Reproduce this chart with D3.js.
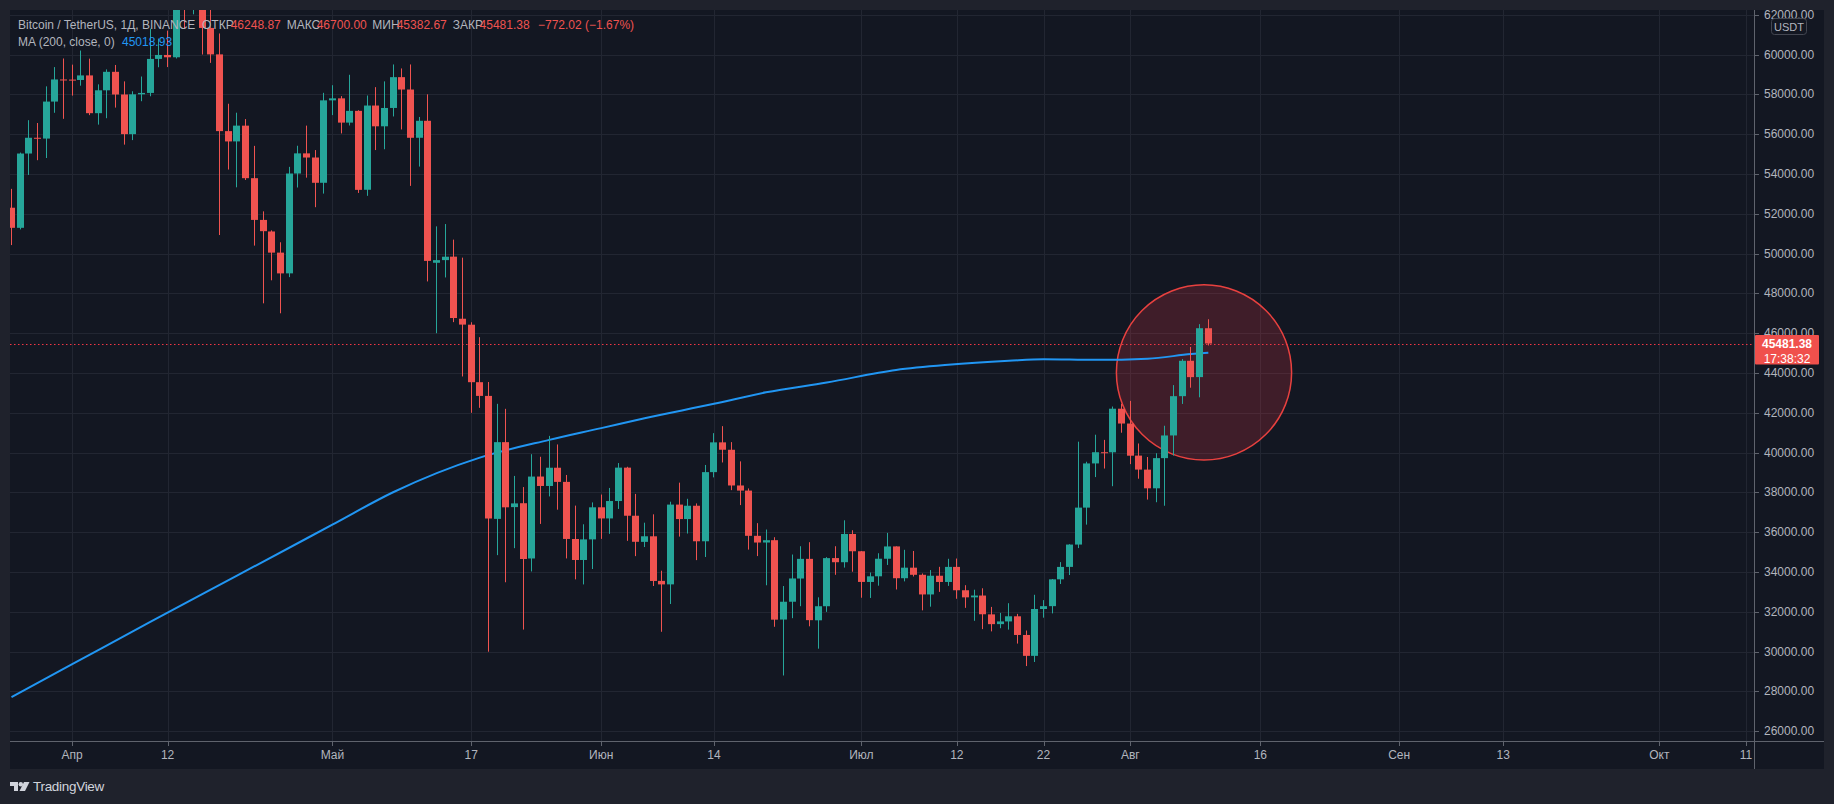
<!DOCTYPE html>
<html><head><meta charset="utf-8">
<script src="https://cdn.jsdelivr.net/npm/d3@7"></script>
<style>
html,body{margin:0;padding:0;background:#1f222c;}
svg{display:block;font-family:"Liberation Sans",Arial,sans-serif;}
</style>
</head><body>
<svg id="chart" width="1834" height="804"></svg>
<script>
// ---------- DATA ----------
const dates = [
"2021-03-25","2021-03-26","2021-03-27","2021-03-28","2021-03-29","2021-03-30","2021-03-31",
"2021-04-01","2021-04-02","2021-04-03","2021-04-04","2021-04-05","2021-04-06","2021-04-07","2021-04-08","2021-04-09","2021-04-10",
"2021-04-11","2021-04-12","2021-04-13","2021-04-14","2021-04-15","2021-04-16","2021-04-17","2021-04-18","2021-04-19","2021-04-20",
"2021-04-21","2021-04-22","2021-04-23","2021-04-24","2021-04-25","2021-04-26","2021-04-27","2021-04-28","2021-04-29","2021-04-30",
"2021-05-01","2021-05-02","2021-05-03","2021-05-04","2021-05-05","2021-05-06","2021-05-07","2021-05-08","2021-05-09","2021-05-10",
"2021-05-11","2021-05-12","2021-05-13","2021-05-14","2021-05-15","2021-05-16","2021-05-17","2021-05-18","2021-05-19","2021-05-20",
"2021-05-21","2021-05-22","2021-05-23","2021-05-24","2021-05-25","2021-05-26","2021-05-27","2021-05-28","2021-05-29","2021-05-30","2021-05-31",
"2021-06-01","2021-06-02","2021-06-03","2021-06-04","2021-06-05","2021-06-06","2021-06-07","2021-06-08","2021-06-09","2021-06-10",
"2021-06-11","2021-06-12","2021-06-13","2021-06-14","2021-06-15","2021-06-16","2021-06-17","2021-06-18","2021-06-19","2021-06-20",
"2021-06-21","2021-06-22","2021-06-23","2021-06-24","2021-06-25","2021-06-26","2021-06-27","2021-06-28","2021-06-29","2021-06-30",
"2021-07-01","2021-07-02","2021-07-03","2021-07-04","2021-07-05","2021-07-06","2021-07-07","2021-07-08","2021-07-09","2021-07-10",
"2021-07-11","2021-07-12","2021-07-13","2021-07-14","2021-07-15","2021-07-16","2021-07-17","2021-07-18","2021-07-19","2021-07-20",
"2021-07-21","2021-07-22","2021-07-23","2021-07-24","2021-07-25","2021-07-26","2021-07-27","2021-07-28","2021-07-29","2021-07-30","2021-07-31",
"2021-08-01","2021-08-02","2021-08-03","2021-08-04","2021-08-05","2021-08-06","2021-08-07","2021-08-08","2021-08-09","2021-08-10"
];
const open = [
52303,51293,55025,55817,55777,57635,58746,
58739,58720,58950,57052,58202,59130,57991,56000,58000,58069,
59778,59977,59860,63576,62960,63158,61334,60006,56151,55634,
56426,53787,51690,51110,50047,49005,54021,55033,54825,53555,
57697,57797,56578,57169,53205,57436,56393,57315,58862,58241,
55816,56670,49537,49671,49845,46726,46426,43538,42849,36671,
40526,37263,37458,34682,38798,38324,39241,38530,35661,34606,35641,
37253,36694,37568,39246,36829,35516,35796,33557,33381,37389,
36663,37331,35546,39020,40516,40143,38349,38093,35820,35484,
35601,31614,32509,33675,34663,31576,32283,34702,34494,35912,
35045,33502,33787,34669,35288,33690,34220,33863,32875,33815,
33502,34259,33086,32729,32820,31874,31384,31520,31778,30839,
29790,32144,32287,33635,34259,35381,37237,39457,40019,40016,42206,
41461,39850,39146,38207,39723,40862,42836,44614,43794,46248.87
];
const high = [
53250,55073,56700,56559,58400,59368,59800,
59490,60200,59791,58500,59251,59474,58650,58153,58894,61300,
60800,61200,63777,64854,63800,63520,62506,61057,57526,57076,
56757,55410,52120,51167,50567,54356,55416,56428,55200,58075,
58458,57911,58981,57200,57939,58360,58650,59500,59300,59500,
56862,58000,51367,51483,50700,49795,46550,45799,43547,42451,
42200,38829,38270,39920,39791,40841,40411,38877,37338,36400,37499,
37894,38225,39476,39289,37925,36480,36900,34068,37534,38491,
37680,37448,39380,40978,41330,40528,39560,38202,36457,36137,
35750,33298,34881,35298,35500,32730,34749,35297,36600,36100,
35057,33977,34945,35967,35293,35118,35059,33929,34100,34262,
34666,34679,33340,33114,33185,32249,31948,32435,31899,31063,
32858,32591,33650,34500,35398,40550,39542,40900,40640,42316,42448,
42599,40459,39780,39969,41350,43392,44700,45310,46454,46700
];
const low = [
50427,51214,53950,54691,54800,57072,56769,
57935,58434,56955,56478,56800,57333,55473,55700,57654,57902,
59360,59369,59800,61301,62020,60000,59580,50931,54221,53329,
53695,50400,47500,48657,47000,48817,53319,53813,52330,53013,
56956,56035,56435,53046,52900,55200,55241,56888,56235,53400,
54370,48600,46000,48800,46555,43825,42001,42250,30000,34850,
33488,35200,31111,34031,36419,37800,37134,34684,33633,33379,34153,
35667,35920,37170,35568,34800,35257,33300,31000,32396,35782,
35936,34600,34757,38757,39506,38116,37365,35129,34803,33336,
31251,28805,31683,32286,31275,30151,32000,33862,34225,34017,
32711,32699,33316,34357,33125,33532,33777,32077,32261,33004,
33306,32658,32202,31550,31133,31020,31179,31108,30407,29278,
29482,31708,31924,33401,33851,35205,36383,38772,39200,38313,41000,
39422,38690,37642,37508,37332,39853,42446,43261,42779,45382.67
];
const close = [
51293,55025,55817,55777,57635,58746,58740,
58720,58950,57052,58202,59130,57991,56000,58000,58069,59778,
59977,59860,63577,62959,63159,61334,60006,56151,55633,56427,
53787,51690,51125,50047,49004,54021,55033,54824,53555,57697,
57797,56578,57169,53200,57436,56393,57314,58862,58240,55816,
56670,49631,49670,49841,46762,46431,43538,42849,36690,40526,
37252,37449,34655,38797,38324,39241,38529,35663,34606,35641,37253,
36693,37568,39246,36829,35520,35797,33552,33380,37389,36662,
37331,35546,39020,40516,40144,38349,38092,35820,35483,35600,
31608,32509,33678,34663,31584,32283,34700,34494,35911,35045,
33504,33786,34669,35287,33690,34220,33862,32875,33815,33502,
34259,33086,32729,32820,31880,31383,31520,31778,30839,29790,
32144,32287,33634,34258,35381,37237,39457,40019,40016,42206,41461,
39845,39147,38207,39723,40862,42836,44614,43792,46249,45481.38
];
// MA(200, close)
const maDates = ["2021-03-25","2021-04-01","2021-04-10","2021-04-20","2021-05-01","2021-05-08","2021-05-18","2021-05-26",
  "2021-06-01","2021-06-06","2021-06-14","2021-06-20","2021-06-27","2021-07-05","2021-07-11","2021-07-18",
  "2021-07-22","2021-07-28","2021-08-03","2021-08-08","2021-08-10"];
const maValues = [27720,29370,31500,33820,36380,38010,39750,40640,
  41230,41730,42450,43030,43520,44150,44410,44610,
  44690,44660,44720,44950,45018.93];

const yTicks = [26000,28000,30000,32000,34000,36000,38000,40000,42000,44000,46000,48000,50000,52000,54000,56000,58000,60000,62000];
const xTickDates = ["2021-04-01","2021-04-12","2021-05-01","2021-05-17","2021-06-01","2021-06-14","2021-07-01","2021-07-12",
  "2021-07-22","2021-08-01","2021-08-16","2021-09-01","2021-09-13","2021-10-01","2021-10-11"];
const xTickLabels = ["Апр","12","Май","17","Июн","14","Июл","12","22","Авг","16","Сен","13","Окт","11"];

const legendTitle = "Bitcoin / TetherUS, 1Д, BINANCE";
const legendLabels = ["ОТКР","МАКС","МИН","ЗАКР"];
const legendValues = ["46248.87","46700.00","45382.67","45481.38"];
const legendChange = "−772.02 (−1.67%)";
const maLegend = "MA (200, close, 0)";
const maLast = "45018.93";
const lastPrice = 45481.38;
const countdown = "17:38:32";
const currency = "USDT";
// circle annotation (center date / price, radius in days)
const circleCenter = {date: "2021-08-09T12:00:00Z", price: 44030, radiusDays: 10.1};

// ---------- LAYOUT ----------
const W = 1834, H = 804;
const P = {left: 10, top: 10, right: 1754, bottom: 741};
const panelRight = 1824, panelBottom = 769;
const C = {bg:"#131722", outer:"#1f222c", grid:"#222632", axis:"#5f636d", text:"#b2b5be",
  up:"#26a69a", down:"#ef5350", ma:"#2196f3", red:"#f23645"};

const parse = s => new Date(s.length > 10 ? s : s + "T00:00:00Z");
const dayMs = 864e5;
const xs = d3.scaleUtc()
  .domain([new Date(parse("2021-04-01").getTime() - 7.172*dayMs), new Date(parse("2021-04-01").getTime() + 193.917*dayMs)])
  .range([P.left, P.right]);
const ys = d3.scaleLinear().domain([26000, 60000]).range([731.3, 54.5]);

const svg = d3.select("#chart");
svg.append("rect").attr("width", W).attr("height", H).attr("fill", C.outer);
svg.append("rect").attr("x", P.left).attr("y", P.top).attr("width", panelRight - P.left).attr("height", panelBottom - P.top).attr("fill", C.bg);

const defs = svg.append("defs");
defs.append("clipPath").attr("id","plotClip").append("rect")
  .attr("x", P.left).attr("y", P.top).attr("width", P.right - P.left).attr("height", P.bottom - P.top);
defs.append("clipPath").attr("id","yaxClip").append("rect")
  .attr("x", P.right).attr("y", P.top).attr("width", panelRight - P.right).attr("height", P.bottom - P.top);

const plot = svg.append("g").attr("clip-path","url(#plotClip)");

// grid
plot.append("g").selectAll("line").data(yTicks).join("line")
  .attr("x1", P.left).attr("x2", P.right)
  .attr("y1", d => Math.round(ys(d)) + 0.5).attr("y2", d => Math.round(ys(d)) + 0.5)
  .attr("stroke", C.grid).attr("stroke-width", 1);
plot.append("g").selectAll("line").data(xTickDates).join("line")
  .attr("x1", d => Math.round(xs(parse(d))) + 0.5).attr("x2", d => Math.round(xs(parse(d))) + 0.5)
  .attr("y1", P.top).attr("y2", P.bottom)
  .attr("stroke", C.grid).attr("stroke-width", 1);

// circle annotation
const cc = parse(circleCenter.date);
const ccx = xs(cc), ccy = ys(circleCenter.price);
const cr = xs(new Date(cc.getTime() + circleCenter.radiusDays*dayMs)) - ccx;
plot.append("circle").attr("cx", ccx).attr("cy", ccy).attr("r", cr)
  .attr("fill", "rgba(242,54,69,0.2)").attr("stroke", "#e8413f").attr("stroke-width", 1.5);

// last price dotted line
plot.append("line").attr("x1", P.left).attr("x2", P.right)
  .attr("y1", Math.round(ys(lastPrice)) + 0.5).attr("y2", Math.round(ys(lastPrice)) + 0.5)
  .attr("stroke", C.red).attr("stroke-width", 1).attr("stroke-dasharray", "1.5,2.5");

// MA line
const maData = maDates.map((d,i) => ({d: parse(d), v: maValues[i]}));
plot.append("path").datum(maData)
  .attr("d", d3.line().x(d => xs(d.d)).y(d => ys(d.v)).curve(d3.curveMonotoneX))
  .attr("fill","none").attr("stroke", C.ma).attr("stroke-width", 2);

// candles
const candles = dates.map((d,i) => ({d: parse(d), o: open[i], h: high[i], l: low[i], c: close[i]}));
const bw = 7;
const cg = plot.append("g").selectAll("g").data(candles).join("g")
  .attr("fill", d => d.c >= d.o ? C.up : C.down);
cg.append("rect")
  .attr("x", d => Math.round(xs(d.d) - bw/2) + 3).attr("width", 1)
  .attr("y", d => ys(d.h)).attr("height", d => Math.max(1, ys(d.l) - ys(d.h)));
cg.append("rect")
  .attr("x", d => Math.round(xs(d.d) - bw/2)).attr("width", bw)
  .attr("y", d => ys(Math.max(d.o, d.c))).attr("height", d => Math.max(1, Math.abs(ys(d.o) - ys(d.c))));

// axes lines
svg.append("line").attr("x1", P.right + 0.5).attr("x2", P.right + 0.5).attr("y1", P.top).attr("y2", panelBottom)
  .attr("stroke", C.axis);
svg.append("line").attr("x1", P.left).attr("x2", panelRight).attr("y1", P.bottom + 0.5).attr("y2", P.bottom + 0.5)
  .attr("stroke", C.axis);

// y axis labels
const yax = svg.append("g").attr("clip-path","url(#yaxClip)");
yax.selectAll("line").data(yTicks).join("line")
  .attr("x1", P.right).attr("x2", P.right + 5)
  .attr("y1", d => Math.round(ys(d)) + 0.5).attr("y2", d => Math.round(ys(d)) + 0.5)
  .attr("stroke", C.axis);
yax.selectAll("text").data(yTicks).join("text")
  .attr("x", P.right + 10).attr("y", d => ys(d) + 4)
  .attr("fill", C.text).attr("font-size", 12)
  .text(d => d3.format(".2f")(d));

// currency box
svg.append("rect").attr("x", 1771.5).attr("y", 18.5).attr("width", 35).attr("height", 16).attr("rx", 3)
  .attr("fill", C.bg).attr("stroke", "#434651");
svg.append("text").attr("x", 1789).attr("y", 30.5).attr("text-anchor","middle")
  .attr("fill", C.text).attr("font-size", 11).text(currency);

// last price label
const ly = ys(lastPrice);
svg.append("rect").attr("x", P.right + 1).attr("y", ly - 8.5).attr("width", 64).attr("height", 29.5).attr("rx", 1)
  .attr("fill", "#f0504c");
svg.append("text").attr("x", P.right + 33).attr("y", ly + 4).attr("text-anchor","middle")
  .attr("fill", "#ffffff").attr("font-size", 12).attr("font-weight", "bold").text(d3.format(".2f")(lastPrice));
svg.append("text").attr("x", P.right + 33).attr("y", ly + 19).attr("text-anchor","middle")
  .attr("fill", "#ffffff").attr("font-size", 12).text(countdown);

// x axis ticks & labels
const xax = svg.append("g");
xax.selectAll("line").data(xTickDates).join("line")
  .attr("x1", d => Math.round(xs(parse(d))) + 0.5).attr("x2", d => Math.round(xs(parse(d))) + 0.5)
  .attr("y1", P.bottom).attr("y2", P.bottom + 5).attr("stroke", C.axis);
xax.selectAll("text").data(xTickDates).join("text")
  .attr("x", d => xs(parse(d))).attr("y", 758.5).attr("text-anchor","middle")
  .attr("fill", C.text).attr("font-size", 12)
  .text((d,i) => xTickLabels[i]);

// legend
const lg = svg.append("g").attr("font-size", 12);
const row1 = lg.append("text").attr("x", 18).attr("y", 29);
row1.append("tspan").attr("fill", C.text).text(legendTitle);
const labelX = [202, 286.7, 372.3, 452.7];
const valueX = [230.7, 316.7, 396.7, 479.6];
legendLabels.forEach((l,i) => {
  lg.append("text").attr("x", labelX[i]).attr("y", 29).attr("fill", C.text).text(l);
  lg.append("text").attr("x", valueX[i]).attr("y", 29).attr("fill", C.down).text(legendValues[i]);
});
lg.append("text").attr("x", 538).attr("y", 29).attr("fill", C.down).text(legendChange);
lg.append("text").attr("x", 18).attr("y", 46).attr("fill", C.text).text(maLegend);
lg.append("text").attr("x", 122).attr("y", 46).attr("fill", C.ma).text(maLast);

// TradingView logo
const logo = svg.append("g").attr("fill", "#d1d4dc");
logo.append("path").attr("d", "M10,782 H18 V791 H14 V786 H10 Z");
logo.append("circle").attr("cx", 20.8).attr("cy", 784.2).attr("r", 2.2);
logo.append("path").attr("d", "M24,782 H29.5 L25,791 H19.5 Z");
svg.append("text").attr("x", 33).attr("y", 791).attr("fill", "#d1d4dc").attr("font-size", 13.5)
  .attr("letter-spacing", -0.3).text("TradingView");
</script>
</body></html>
